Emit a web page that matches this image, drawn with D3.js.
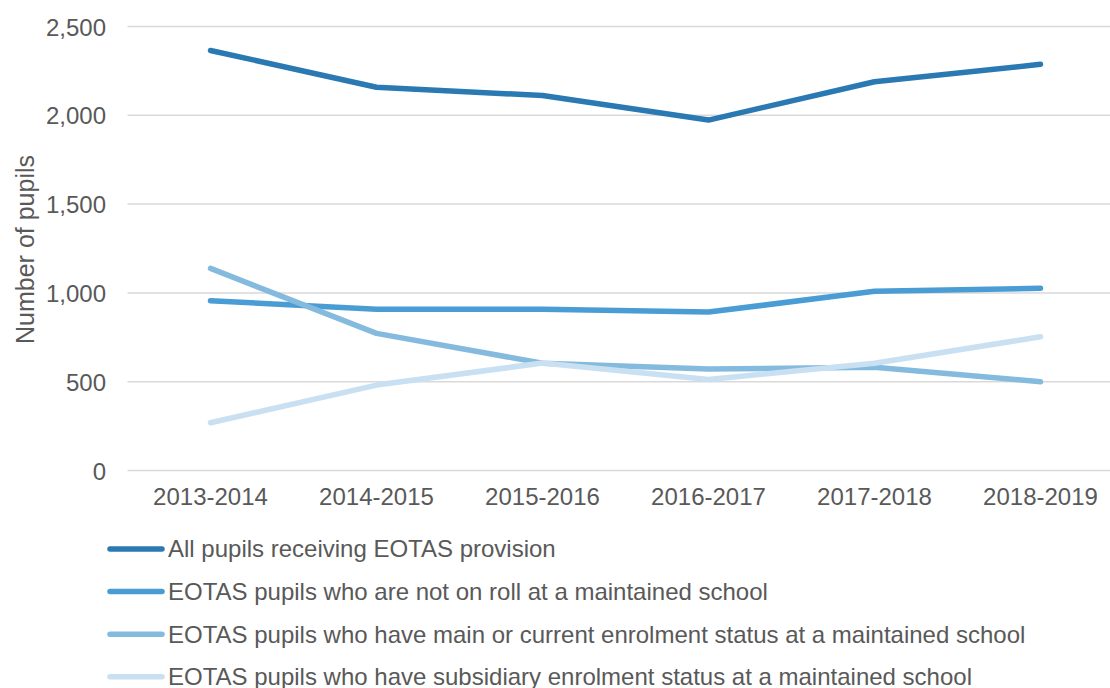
<!DOCTYPE html>
<html>
<head>
<meta charset="utf-8">
<script src="https://cdn.jsdelivr.net/npm/d3@7"></script>
<style>
  html, body { margin: 0; padding: 0; background: #fff; }
  svg { display: block; font-family: "Liberation Sans", Arial, sans-serif; }
</style>
</head>
<body>
<svg id="chart" width="1110" height="688"></svg>
<script>
// School years on the x axis
const years = ["2013-2014", "2014-2015", "2015-2016", "2016-2017", "2017-2018", "2018-2019"];

// Pupil counts per series
const allPupils      = [2365, 2158, 2111, 1973, 2189, 2287];
const notOnRoll      = [956, 908, 908, 892, 1009, 1026];
const mainEnrolment  = [1138, 772, 604, 571, 581, 500];
const subsidiary     = [269, 481, 605, 513, 604, 753];

const seriesNames = [
  "All pupils receiving EOTAS provision",
  "EOTAS pupils who are not on roll at a maintained school",
  "EOTAS pupils who have main or current enrolment status at a maintained school",
  "EOTAS pupils who have subsidiary enrolment status at a maintained school"
];
const yTicks = [0, 500, 1000, 1500, 2000, 2500];

const colors = ["#2a79b2", "#4a9dd4", "#85badf", "#c8e0f2"];
const seriesValues = [allPupils, notOnRoll, mainEnrolment, subsidiary];

const svg = d3.select("#chart");
const textColor = "#595959";
const fontSize = 24;

const plot = { left: 127.5, right: 1123.5, top: 26.5, bottom: 470.5 };

const x = d3.scaleBand().domain(years).range([plot.left, plot.right]);
const y = d3.scaleLinear().domain([0, 2500]).range([plot.bottom, plot.top]);

// Horizontal gridlines
svg.append("g")
  .selectAll("line")
  .data(yTicks)
  .join("line")
  .attr("x1", plot.left)
  .attr("x2", plot.right)
  .attr("y1", d => y(d))
  .attr("y2", d => y(d))
  .attr("stroke", "#d9d9d9")
  .attr("stroke-width", 1.5);

// Y axis labels
const yAxis = d3.axisLeft(y).tickValues(yTicks).tickFormat(d3.format(",")).tickSize(0).tickPadding(0);
const yG = svg.append("g").attr("transform", `translate(106,1)`).call(yAxis);
yG.select(".domain").remove();
yG.selectAll("text")
  .attr("fill", textColor)
  .style("font-size", fontSize + "px")
  .style("font-family", "'Liberation Sans', Arial, sans-serif");

// X axis labels
const xAxis = d3.axisBottom(x).tickSize(0).tickPadding(0);
const xG = svg.append("g").attr("transform", `translate(0,${plot.bottom + 17})`).call(xAxis);
xG.select(".domain").remove();
xG.selectAll("text")
  .attr("fill", textColor)
  .style("font-size", fontSize + "px")
  .style("font-family", "'Liberation Sans', Arial, sans-serif");

// Y axis title
svg.append("text")
  .attr("transform", `translate(34,${(plot.top + plot.bottom) / 2 + 1}) rotate(-90)`)
  .attr("text-anchor", "middle")
  .attr("fill", textColor)
  .style("font-size", "25px")
  .text("Number of pupils");

// Series lines
const line = d3.line()
  .x((d, i) => x(years[i]) + x.bandwidth() / 2)
  .y(d => y(d));

svg.append("g")
  .selectAll("path")
  .data(seriesValues)
  .join("path")
  .attr("d", d => line(d))
  .attr("fill", "none")
  .attr("stroke", (d, i) => colors[i])
  .attr("stroke-width", 5.5)
  .attr("stroke-linecap", "round")
  .attr("stroke-linejoin", "round");

// Legend
const legend = svg.append("g");
const rows = legend.selectAll("g")
  .data(seriesNames)
  .join("g")
  .attr("transform", (d, i) => `translate(0,${549 + i * 42.6})`);
rows.append("line")
  .attr("x1", 110).attr("x2", 162)
  .attr("y1", 0).attr("y2", 0)
  .attr("stroke", (d, i) => colors[i])
  .attr("stroke-width", 5.5)
  .attr("stroke-linecap", "round");
rows.append("text")
  .attr("x", 168)
  .attr("y", 0)
  .attr("dy", "0.35em")
  .attr("fill", textColor)
  .style("font-size", fontSize + "px")
  .text(d => d);
</script>
</body>
</html>
